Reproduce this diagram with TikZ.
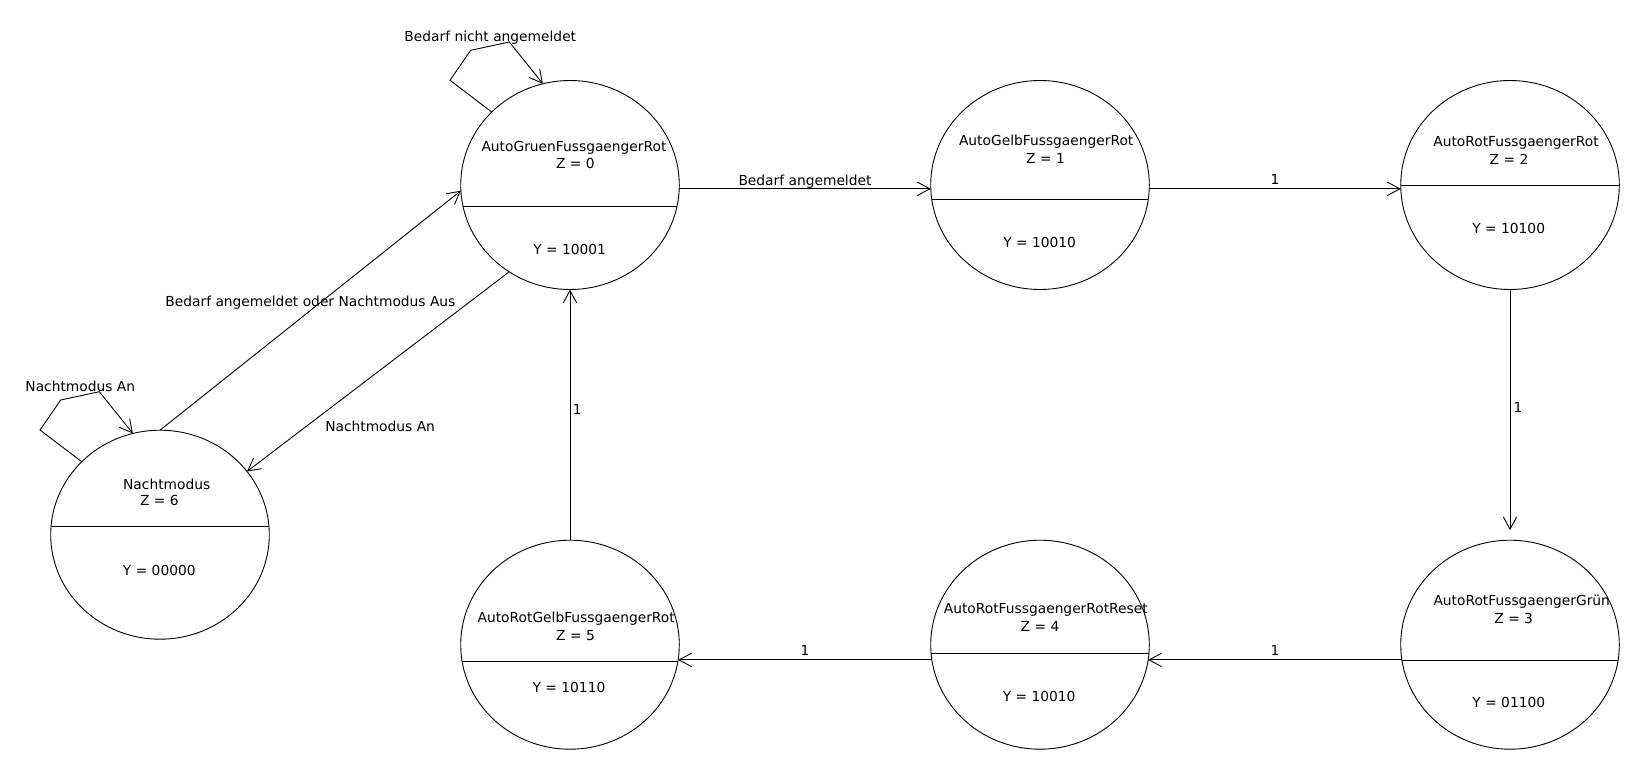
\documentclass[tikz,border=0pt]{standalone}
\usepackage{fontspec}
\setmainfont{DejaVu Sans}
\usetikzlibrary{shapes.geometric,arrows.meta,calc}
\tikzset{
  state/.style={ellipse, draw, line width=0.9pt, minimum width=218.6pt,
    minimum height=209pt, inner sep=0pt, outer sep=0pt,
    path picture={\draw[line width=1pt]
      ([yshift=#1]path picture bounding box.west) --
      ([yshift=#1]path picture bounding box.east);}},
  txt/.style={inner sep=0pt, font=\fontsize{13.8}{16}\selectfont},
  conn/.style={line width=0.9pt,
    -{Straight Barb[length=12.5pt,width=13.5pt,line width=0.9pt]}},
}
\begin{document}
\begin{tikzpicture}[x=1pt,y=-1pt]
\useasboundingbox (0,0) rectangle (1640,770);

% states (divider offset given as canvas shift)
\node[state=-21pt]   (s0) at (570,185) {};
\node[state=-15pt]   (s1) at (1040,185) {};
\node[state=-0.7pt]  (s2) at (1510,185) {};
\node[state=-15.3pt] (s3) at (1510,644.7) {};
\node[state=-8.6pt]  (s4) at (1040,644.7) {};
\node[state=-16.3pt] (s5) at (570,644.7) {};
\node[state=8pt]     (s6) at (160,534.7) {};

% state texts
\node[txt] (s0n) at (574,147.7)   {AutoGruenFussgaengerRot};
\node[txt] (s0z) at (575.3,163.3) {Z = 0};
\node[txt] (s0y) at (569.7,249.3) {Y = 10001};

\node[txt] (s1n) at (1046.2,141.7) {AutoGelbFussgaengerRot};
\node[txt] (s1z) at (1045.5,158.3) {Z = 1};
\node[txt] (s1y) at (1039.7,242.7) {Y = 10010};

\node[txt] (s2n) at (1516,142.7)   {AutoRotFussgaengerRot};
\node[txt] (s2z) at (1509,159.3)   {Z = 2};
\node[txt] (s2y) at (1508.7,228.3) {Y = 10100};

\node[txt] (s3n) at (1521.7,601.7) {AutoRotFussgaengerGrün};
\node[txt] (s3z) at (1513.7,618.3) {Z = 3};
\node[txt] (s3y) at (1508.8,702.3) {Y = 01100};

\node[txt] (s4n) at (1045.8,610)   {AutoRotFussgaengerRotReset};
\node[txt] (s4z) at (1040,626.7)   {Z = 4};
\node[txt] (s4y) at (1039.2,696.7) {Y = 10010};

\node[txt] (s5n) at (576.2,618.3) {AutoRotGelbFussgaengerRot};
\node[txt] (s5z) at (575.5,636)   {Z = 5};
\node[txt] (s5y) at (569,687.7)   {Y = 10110};

\node[txt] (s6n) at (166.7,484.3) {Nachtmodus};
\node[txt] (s6z) at (159.3,500)   {Z = 6};
\node[txt] (s6y) at (159.3,570.7) {Y = 00000};

% transitions
\draw[conn] (s0.-2.8) -- (s1.182.8)
  node[txt, midway, yshift=7pt] {Bedarf angemeldet};
\draw[conn] (s1.-2.8) -- (s2.182.8)
  node[txt, midway, yshift=9.2pt] {1};
\draw[conn, shorten >=10pt] (s2.south) -- (s3.north)
  node[txt, pos=0.47, xshift=8pt] {1};
\draw[conn] (s3.188.1) -- (s4.-8.1)
  node[txt, midway, yshift=9.7pt] {1};
\draw[conn] (s4.188.1) -- (s5.-8.1)
  node[txt, midway, yshift=9.7pt] {1};
\draw[conn] (s5.north) -- (s0.south)
  node[txt, pos=0.52, xshift=7.3pt] {1};
\draw[conn] (s6.north) -- (s0.183.5)
  node[txt, midway, yshift=8pt] {Bedarf angemeldet oder Nachtmodus Aus};
\draw[conn] (s0.235) -- (s6.36)
  node[txt, midway, xshift=2pt, yshift=-55pt] {Nachtmodus An};

% self loops
\coordinate (s0l1) at ($(s0)+(-120,-104.7)$);
\coordinate (s0l2) at ($(s0)+(-99.3,-134.7)$);
\coordinate (s0l3) at ($(s0)+(-60.7,-143)$);
\draw[conn] (s0.137) -- (s0l1) -- (s0l2) -- (s0l3)
  node[txt, xshift=-19pt, yshift=4.7pt] {Bedarf nicht angemeldet}
  -- (s0.105.6);

\coordinate (s6l1) at ($(s6)+(-120,-104.7)$);
\coordinate (s6l2) at ($(s6)+(-99.3,-134.7)$);
\coordinate (s6l3) at ($(s6)+(-60.7,-143)$);
\draw[conn] (s6.137) -- (s6l1) -- (s6l2) -- (s6l3)
  node[txt, xshift=-19pt, yshift=5.7pt] {Nachtmodus An}
  -- (s6.105.6);
\end{tikzpicture}
\end{document}
